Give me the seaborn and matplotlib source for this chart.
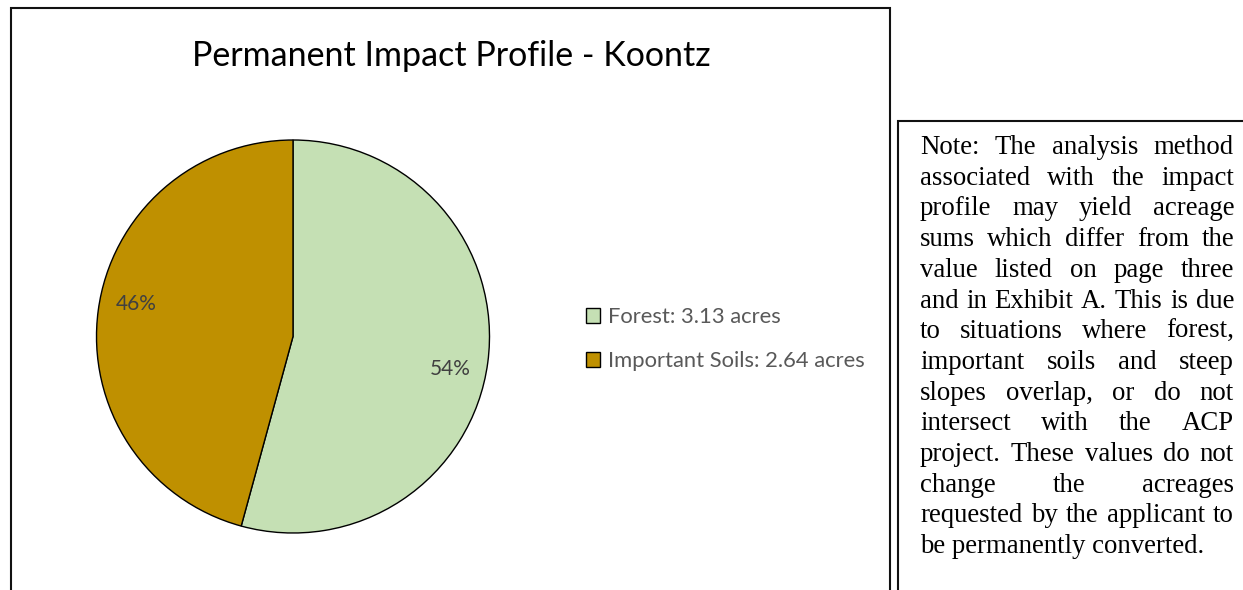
import matplotlib
matplotlib.use("Agg")
import matplotlib.pyplot as plt
import seaborn as sns
import numpy as np
from matplotlib.patches import Rectangle

# ---- data ----
categories = ["Forest", "Important Soils"]
acres = [3.13, 2.64]
colors = ["#C5E0B4", "#BF9000"]
legend_labels = [f"{c}: {a:.2f} acres" for c, a in zip(categories, acres)]
title = "Permanent Impact Profile - Koontz"
note_lines = [
    "Note: The analysis method",
    "associated with the impact",
    "profile may yield acreage",
    "sums which differ from the",
    "value listed on page three",
    "and in Exhibit A. This is due",
    "to situations where forest,",
    "important soils and steep",
    "slopes overlap, or do not",
    "intersect with the ACP",
    "project. These values do not",
    "change the acreages",
    "requested by the applicant to",
    "be permanently converted.",
]

sns.set_theme(style="white")
plt.rcParams["font.family"] = ["Lato", "DejaVu Sans"]

W, H = 1243, 590
fig = plt.figure(figsize=(W / 100, H / 100), dpi=100)
fig.patch.set_facecolor("white")
renderer = fig.canvas.get_renderer()


def fx(x):
    return x / W


def fy(y):
    return 1 - y / H


def fit_width(t, target):
    w = t.get_window_extent(renderer).width
    t.set_fontsize(t.get_fontsize() * target / w)
    return t.get_fontsize()


# ---- frames ----
fig.patches.append(Rectangle((fx(11), fy(600)), (890 - 11) / W, (600 - 8) / H,
                             transform=fig.transFigure, fill=False,
                             edgecolor="#111111", linewidth=1.5))
fig.patches.append(Rectangle((fx(898), fy(600)), (1260 - 898) / W, (600 - 121) / H,
                             transform=fig.transFigure, fill=False,
                             edgecolor="#111111", linewidth=1.5))

# ---- pie ----
cx, cy, r = 293, 336.5, 196.5
ax = fig.add_axes([fx(cx - r), fy(cy + r), 2 * r / W, 2 * r / H])
wedges, texts, autotexts = ax.pie(
    acres, colors=colors, startangle=90, counterclock=False,
    autopct="%.0f%%", pctdistance=0.815,
    wedgeprops=dict(edgecolor="black", linewidth=1.0),
    textprops=dict(color="#404040"),
)
for w_ in wedges:
    w_.set_clip_on(False)
ax.set_xlim(-1, 1)
ax.set_ylim(-1, 1)
ax.set_aspect("equal")
ax.axis("off")

# percentage labels: nudge slightly clockwise like the original
rot = np.deg2rad(-4.0)
for t in autotexts:
    x, y = t.get_position()
    t.set_position((x * np.cos(rot) - y * np.sin(rot), x * np.sin(rot) + y * np.cos(rot)))
    t.set_fontsize(14)
fs_pct = fit_width(autotexts[0], 41)
autotexts[1].set_fontsize(fs_pct)

# ---- title ----
tt = fig.text(fx(451), fy(56), title, ha="center", va="center",
              color="#000000", fontsize=20)
fit_width(tt, 520)

# ---- legend ----
probe = fig.text(0, 0, legend_labels[1], fontsize=14)
fs_leg = fit_width(probe, 257)
probe.remove()
leg = fig.legend(wedges, legend_labels, loc="center left",
                 bbox_to_anchor=(fx(586), fy(339)), frameon=False,
                 fontsize=fs_leg, labelcolor="#595959",
                 handlelength=0.65, handleheight=0.65, handletextpad=0.35,
                 labelspacing=1.1, borderpad=0, borderaxespad=0)

# ---- justified note text ----
left, right = 920, 1234
base0, step = 154, 30.7
probe = fig.text(0, 0, note_lines[-1], fontsize=16, family="Liberation Serif")
fs_note = fit_width(probe, 285)
probe.remove()

for i, line in enumerate(note_lines):
    yb = fy(base0 + i * step)
    words = line.split(" ")
    if i == len(note_lines) - 1 or len(words) == 1:
        fig.text(fx(left), yb, line, ha="left", va="baseline",
                 fontsize=fs_note, family="Liberation Serif", color="black")
        continue
    objs = [fig.text(0, yb, wd, ha="left", va="baseline", fontsize=fs_note,
                     family="Liberation Serif", color="black") for wd in words]
    widths = [o.get_window_extent(renderer).width for o in objs]
    gap = (right - left - sum(widths)) / (len(words) - 1)
    x = left
    for o, wd in zip(objs, widths):
        o.set_x(fx(x))
        x += wd + gap

fig.savefig("out.png", dpi=100, facecolor="white")
